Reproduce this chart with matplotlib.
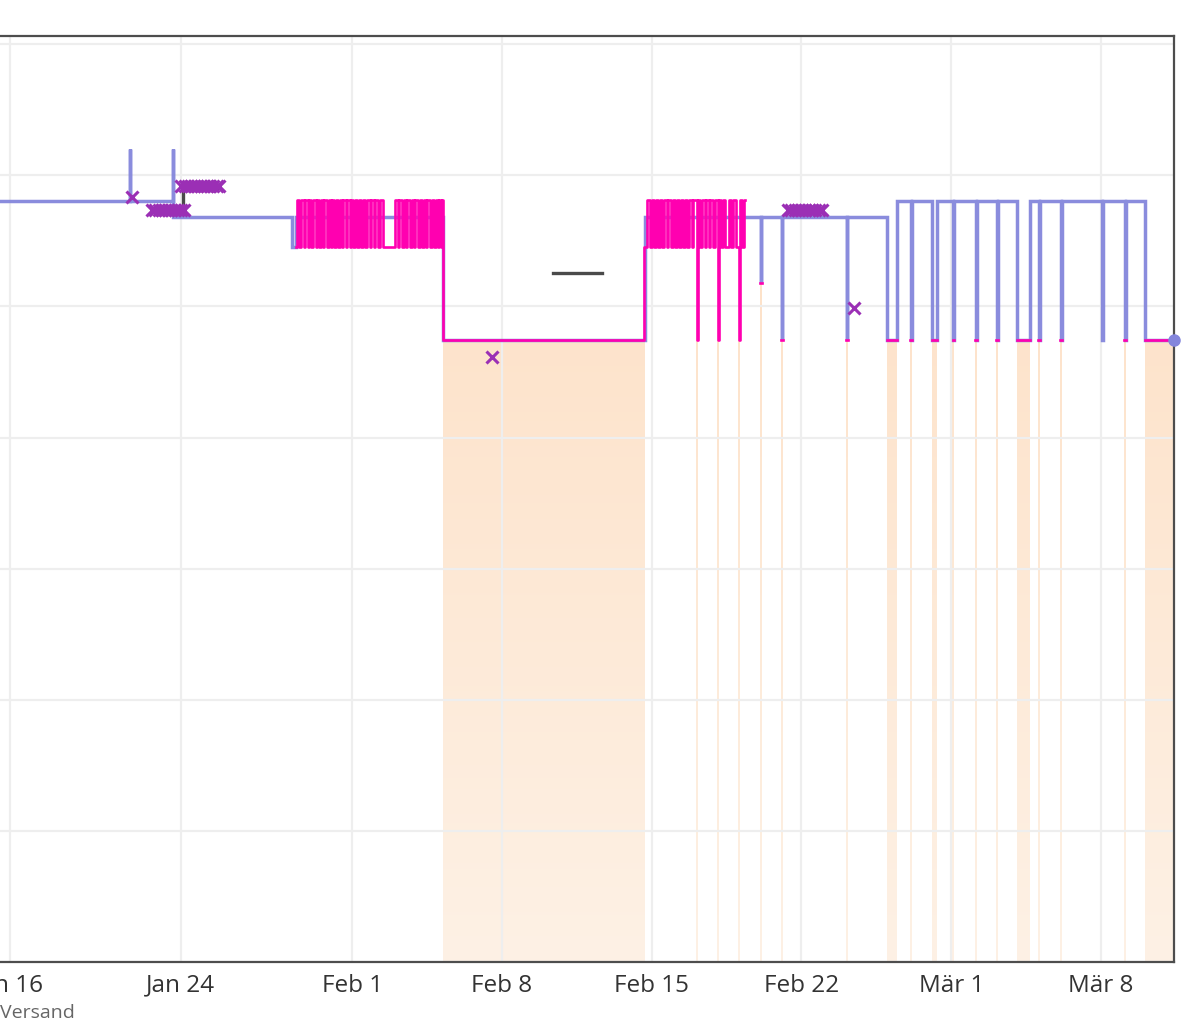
import numpy as np
import pandas as pd
import matplotlib
matplotlib.use("Agg")
import matplotlib.pyplot as plt
import matplotlib.dates as mdates
from matplotlib.path import Path
from matplotlib.colors import LinearSegmentedColormap
from matplotlib import font_manager

# ---------------- data (days since 2021-01-16, prices) ----------------
START = pd.Timestamp("2021-01-16")

tick_days = [0, 8, 16, 23, 30, 37, 44, 51]
tick_labels = ["Jan 16", "Jan 24", "Feb 1", "Feb 8", "Feb 15", "Feb 22", "Mär 1", "Mär 8"]
month_start_days = [16, 44]
y_grid = [0, 10, 20, 30, 40, 50, 60, 70]
nan = float("nan")

# "Neu" price (blue step line)
blue_t = [-4.0, 5.60, 5.64, 7.61, 7.65, 13.17, 13.36, 20.25, 29.69,
          35.09, 35.13, 36.07, 36.11, 39.11, 39.15, 41.00, 41.47,
          42.10, 42.16, 43.10, 43.34, 44.07, 44.12, 45.14, 45.19,
          46.12, 46.17, 47.08, 47.68, 48.08, 48.13, 49.11, 49.16,
          51.03, 51.08, 52.10, 52.15, 53.06, 54.41]
blue_v = [58.05, 62.0, 58.05, 62.0, 56.83, 54.54, 56.83, 47.44, 56.83,
          51.79, 56.83, 47.44, 56.83, 47.44, 56.83, 47.44, 58.05,
          47.44, 58.05, 47.44, 58.05, 47.44, 58.05, 47.44, 58.05,
          47.44, 58.05, 47.44, 58.05, 47.44, 58.05, 47.44, 58.05,
          47.44, 58.05, 47.44, 58.05, 47.44, 47.44]

# Buy box price (pink step line, NaN = no buy box)
pink_t = [13.38, 13.41, 13.53, 13.62, 13.74, 13.80, 13.93, 14.00, 14.10, 14.19,
          14.30, 14.36, 14.46, 14.55, 14.64, 14.70, 14.81, 14.90, 14.99, 15.06,
          15.17, 15.25, 15.33, 15.42, 15.52, 15.58, 15.70, 15.78, 15.88, 15.96,
          16.06, 16.12, 16.22, 16.32, 16.42, 16.50, 16.62, 16.70, 16.82, 16.90,
          17.01, 17.08, 17.20, 17.30, 17.43, 18.00, 18.12, 18.20, 18.31, 18.40,
          18.50, 18.58, 18.70, 18.78, 18.88, 18.96, 19.07, 19.15, 19.26, 19.34,
          19.45, 19.52, 19.63, 19.71, 19.82, 19.90, 20.00, 20.08, 20.17, 20.21,
          20.25,
          29.64, 29.80, 29.92, 30.00, 30.12, 30.20, 30.31, 30.40, 30.50, 30.58,
          30.70, 30.78, 30.90, 30.98, 31.09, 31.17, 31.28, 31.36, 31.48, 31.56,
          31.67, 31.75, 31.86, 31.94,
          32.10, 32.17, 32.27, 32.35, 32.47, 32.55, 32.66, 32.74, 32.86, 32.94,
          33.08, 33.15, 33.26, 33.34, 33.42, 33.62, 33.72, 33.80, 33.92,
          34.06, 34.12, 34.22, 34.30, 34.36,
          35.08, 35.14, 36.06, 36.12, 39.10, 39.16, 41.00, 41.47, 42.09, 42.17,
          43.10, 43.34, 44.06, 44.13, 45.13, 45.20, 46.11, 46.18, 47.08, 47.68,
          48.07, 48.14, 49.10, 49.17, 52.09, 52.16, 53.06, 54.41]
pink_v = [54.54, 58.1, 54.54, 58.1, 54.54, 58.1, 54.54, 58.1, 54.54, 58.1,
          54.54, 58.1, 54.54, 58.1, 54.54, 58.1, 54.54, 58.1, 54.54, 58.1,
          54.54, 58.1, 54.54, 58.1, 54.54, 58.1, 54.54, 58.1, 54.54, 58.1,
          54.54, 58.1, 54.54, 58.1, 54.54, 58.1, 54.54, 58.1, 54.54, 58.1,
          54.54, 58.1, 54.54, 58.1, 54.54, 58.1, 54.54, 58.1, 54.54, 58.1,
          54.54, 58.1, 54.54, 58.1, 54.54, 58.1, 54.54, 58.1, 54.54, 58.1,
          54.54, 58.1, 54.54, 58.1, 54.54, 58.1, 54.54, 58.1, 54.54, 58.1,
          47.44,
          54.54, 58.1, 54.54, 58.1, 54.54, 58.1, 54.54, 58.1, 54.54, 58.1,
          54.54, 58.1, 54.54, 58.1, 54.54, 58.1, 54.54, 58.1, 54.54, 58.1,
          54.54, 58.1, 54.54, 58.1,
          47.44, 58.1, 54.54, 58.1, 54.54, 58.1, 54.54, 58.1, 54.54, 58.1,
          47.44, 58.1, 54.54, 58.1, 54.54, 58.1, 54.54, 58.1, 54.54,
          47.44, 58.1, 54.54, 58.1, nan,
          51.79, nan, 47.44, nan, 47.44, nan, 47.44, nan, 47.44, nan,
          47.44, nan, 47.44, nan, 47.44, nan, 47.44, nan, 47.44, nan,
          47.44, nan, 47.44, nan, 47.44, nan, 47.44, 47.44]

# Amazon price periods (orange area)
amazon_start = [20.25, 32.08, 33.06, 34.04, 35.07, 36.05, 39.09, 41.00, 42.08,
                43.10, 44.05, 45.12, 46.10, 47.08, 48.06, 49.09, 52.08, 53.06]
amazon_end = [29.69, 32.17, 33.16, 34.13, 35.14, 36.13, 39.17, 41.47, 42.18,
              43.34, 44.14, 45.21, 46.19, 47.68, 48.15, 49.18, 52.17, 54.41]
amazon_v = [47.44, 47.44, 47.44, 47.44, 51.79, 47.44, 47.44, 47.44, 47.44,
            47.44, 47.44, 47.44, 47.44, 47.44, 47.44, 47.44, 47.44, 47.44]

# Used price (dark grey)
grey_t = [8.04, 8.10, 9.70, 25.39, 27.68]
grey_v = [57.3, 58.9, nan, 52.56, 52.56]

# Warehouse deals (purple crosses)
deal_t = [5.71,
          6.65, 6.80, 6.95, 7.10, 7.25, 7.40, 7.55, 7.70, 7.85, 8.00, 8.15,
          8.02, 8.17, 8.32, 8.47, 8.62, 8.77, 8.92, 9.07, 9.22, 9.37, 9.52, 9.67, 9.80,
          22.54,
          36.37, 36.53, 36.69, 36.85, 37.01, 37.17, 37.33, 37.49, 37.65, 37.81, 37.97,
          39.46]
deal_v = [58.36,
          57.39, 57.39, 57.39, 57.39, 57.39, 57.39, 57.39, 57.39, 57.39, 57.39, 57.39,
          59.19, 59.19, 59.19, 59.19, 59.19, 59.19, 59.19, 59.19, 59.19, 59.19, 59.19, 59.19, 59.19,
          46.15,
          57.39, 57.39, 57.39, 57.39, 57.39, 57.39, 57.39, 57.39, 57.39, 57.39, 57.39,
          49.89]

X_LEFT, X_RIGHT = -3.0, 54.41
Y_MAX = 70.63


def to_dates(days):
    return START + pd.to_timedelta(np.asarray(days, dtype=float), unit="D")


# ---------------- fonts ----------------
names = {f.name for f in font_manager.fontManager.ttflist}
if "Liberation Sans Narrow" in names:
    FONT, TSIZE = "Liberation Sans Narrow", 20.5
else:
    FONT, TSIZE = "Open Sans", 17.5

# ---------------- figure ----------------
W, H = 1202, 1024
fig = plt.figure(figsize=(W / 100, H / 100), dpi=100)
right_px, bottom_px, top_px = 1174, 962, 36
ppd = (right_px - 9.8) / (X_RIGHT - 0.0)
left_px = 9.8 + X_LEFT * ppd
ax = fig.add_axes([left_px / W, (H - bottom_px) / H,
                   (right_px - left_px) / W, (bottom_px - top_px) / H])

xl = mdates.date2num(to_dates([X_LEFT, X_RIGHT]))

# Amazon area with gradient
polys = []
for a, b, v in zip(amazon_start, amazon_end, amazon_v):
    d = to_dates([a, b])
    c = ax.fill_between(d, [0, 0], [v, v], color="#fde6cf", lw=0, zorder=0.3)
    polys.append(c)
paths = [p for c in polys for p in c.get_paths()]
cp = Path.make_compound_path(*paths)
cmap = LinearSegmentedColormap.from_list("amz", ["#fef1e5", "#fde2c9"])
grad = np.linspace(0, 1, 256).reshape(-1, 1)
im = ax.imshow(grad, cmap=cmap, aspect="auto", origin="lower",
               extent=[xl[0], xl[1], 0, 52.5], zorder=0.35, interpolation="bilinear")
im.set_clip_path(cp, ax.transData)
ax.set_xlim(xl[0], xl[1])
ax.set_ylim(0, Y_MAX)

# grid
ax.set_xticks(mdates.date2num(to_dates(tick_days)))
ax.set_xticklabels(tick_labels, fontfamily=FONT, fontsize=TSIZE, color="#333333")
ax.set_xticks(mdates.date2num(to_dates(month_start_days)), minor=True)
ax.set_yticks(y_grid)
ax.set_yticklabels([])
ax.grid(True, which="major", color="#eeeeee", lw=1.6, zorder=0.5)
ax.set_axisbelow(True)
ax.tick_params(axis="x", which="major", length=0, pad=8.5)
ax.tick_params(axis="x", which="minor", length=5, width=2.2, direction="in", color="#999999")
ax.tick_params(axis="y", length=0)

# lines
ax.step(to_dates(blue_t), blue_v, where="post", color="#8486dc", lw=2.5, alpha=0.95,
        zorder=3, solid_joinstyle="miter")
ax.step(to_dates(pink_t), pink_v, where="post", color="#ff00b0", lw=1.9, zorder=4)
ax.step(to_dates(grey_t), grey_v, where="post", color="#4a4a4a", lw=2.4, zorder=3.5)
ax.plot(to_dates(deal_t), deal_v, ls="none", marker="x", ms=8, mew=2.2,
        color="#9b2fb5", zorder=5)
ax.plot(to_dates([blue_t[-1]]), [blue_v[-1]], ls="none", marker="o", ms=8,
        color="#8486dc", zorder=6, clip_on=False)

for s in ["top", "bottom", "right"]:
    ax.spines[s].set_color("#4d4d4d")
    ax.spines[s].set_linewidth(1.6)
ax.spines["left"].set_visible(False)

fig.text(75 / W, 1 - 1018 / H, "Versand", ha="right", va="baseline",
         fontfamily=FONT, fontsize=TSIZE * 0.8, color="#666666")

fig.savefig("out.png", dpi=100, facecolor="white")
